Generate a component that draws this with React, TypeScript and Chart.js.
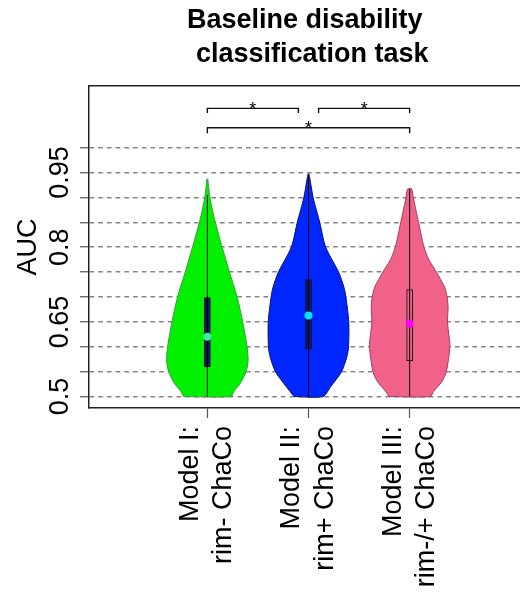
import React, { useEffect, useRef } from "react";
import { Chart, registerables } from "chart.js";

Chart.register(...registerables);

// ---------------- data ----------------
const categories = [
  ["Model I:", "rim- ChaCo"],
  ["Model II:", "rim+ ChaCo"],
  ["Model III:", "rim-/+ ChaCo"],
];
const positions = [1, 2, 3];

// violin profiles: AUC level and half-width (in category units)
const model1Levels = [0.5, 0.51, 0.527, 0.55, 0.572, 0.6, 0.65, 0.7, 0.75, 0.8, 0.85, 0.875, 0.9, 0.92, 0.937];
const model1Widths = [0.236, 0.262, 0.327, 0.383, 0.403, 0.393, 0.35, 0.295, 0.219, 0.147, 0.079, 0.05, 0.026, 0.013, 0.004];

const model2Levels = [0.5, 0.52, 0.55, 0.58, 0.6, 0.65, 0.7, 0.72, 0.75, 0.8, 0.85, 0.9, 0.947];
const model2Widths = [0.144, 0.22, 0.327, 0.38, 0.396, 0.398, 0.37, 0.35, 0.298, 0.17, 0.111, 0.046, 0.005];

const model3Levels = [0.5, 0.51, 0.53, 0.55, 0.6, 0.62, 0.65, 0.68, 0.7, 0.72, 0.75, 0.775, 0.8, 0.85, 0.9, 0.917];
const model3Widths = [0.204, 0.236, 0.318, 0.363, 0.398, 0.39, 0.374, 0.38, 0.37, 0.345, 0.265, 0.19, 0.142, 0.088, 0.036, 0.02];

const boxLower = [0.56, 0.595, 0.572];
const boxUpper = [0.699, 0.735, 0.715];
const medians = [0.62, 0.663, 0.647];
const whiskerLow = [0.5, 0.5, 0.5];
const whiskerHigh = [0.905, 0.945, 0.917];

// significance brackets
const bracketStarts = [1, 2.1, 1];
const bracketEnds = [1.9, 3, 3];
const bracketLevels = [1.079, 1.079, 1.04];
const bracketFeet = [1.0697, 1.0697, 1.029];
const starLabels = ["*", "*", "*"];

const yTickValues = [0.5, 0.55, 0.6, 0.65, 0.7, 0.75, 0.8, 0.85, 0.9, 0.95, 1.0];
const yTickLabels = ["0.5", "", "", "0.65", "", "", "0.8", "", "", "0.95", ""];

// ---------------- styles ----------------
const FONT = "'Liberation Sans', Arial, Helvetica, sans-serif";
const violinFill = ["#00f000", "#0026ff", "#f0628a"];
const violinEdge = ["#3c9a3c", "#10106a", "#a23a62"];
const boxFill = ["#0b1a6e", "#0b1a6e", "#f0628a"];
const medianColor = ["#40e8a8", "#00e5ff", "#ff00ff"];

const violinProfiles = [
  [model1Levels, model1Widths],
  [model2Levels, model2Widths],
  [model3Levels, model3Widths],
];

function violinPoints(center: number, levels: number[], widths: number[]) {
  const left = levels.map((v, i) => ({ x: center - widths[i], y: v }));
  const right = levels.map((v, i) => ({ x: center + widths[i], y: v })).reverse();
  return [...left, ...right, left[0]];
}

const starPlugin = {
  id: "sigStars",
  afterDatasetsDraw(chart: any) {
    const { ctx } = chart;
    const x = chart.scales.x;
    const y = chart.scales.y;
    const size = 18;
    ctx.save();
    ctx.font = `${size}px ${FONT}`;
    ctx.fillStyle = "#000";
    ctx.textAlign = "center";
    ctx.textBaseline = "alphabetic";
    bracketStarts.forEach((s, i) => {
      const px = x.getPixelForValue((s + bracketEnds[i]) / 2);
      const py = y.getPixelForValue(bracketLevels[i]) - 4.3;
      ctx.fillText(starLabels[i], px, py + 0.58 * size);
    });
    ctx.restore();
  },
};

export default function App() {
  const ref = useRef<HTMLCanvasElement | null>(null);

  useEffect(() => {
    if (!ref.current) return;
    Chart.defaults.font.family = FONT;

    const datasets: any[] = [];

    violinProfiles.forEach(([lv, wd], i) => {
      datasets.push({
        type: "line",
        data: violinPoints(positions[i], lv, wd),
        fill: "shape",
        backgroundColor: violinFill[i],
        borderColor: violinEdge[i],
        borderWidth: 1,
        pointRadius: 0,
        tension: 0.25,
        order: 5,
      });
    });

    datasets.push({
      type: "bar",
      data: positions.map((p, i) => ({ x: p, y: [boxLower[i], boxUpper[i]] })),
      backgroundColor: boxFill,
      borderColor: "#111",
      borderWidth: 1,
      borderSkipped: false,
      barThickness: 6,
      order: 4,
    });

    positions.forEach((p, i) => {
      datasets.push({
        type: "line",
        data: [
          { x: p, y: whiskerLow[i] },
          { x: p, y: whiskerHigh[i] },
        ],
        borderColor: "#000",
        borderWidth: 1,
        pointRadius: 0,
        fill: false,
        order: 3,
      });
    });

    bracketStarts.forEach((s, i) => {
      datasets.push({
        type: "line",
        data: [
          { x: s, y: bracketFeet[i] },
          { x: s, y: bracketLevels[i] },
          { x: bracketEnds[i], y: bracketLevels[i] },
          { x: bracketEnds[i], y: bracketFeet[i] },
        ],
        borderColor: "#111",
        borderWidth: 1.4,
        pointRadius: 0,
        fill: false,
        order: 2,
      });
    });

    datasets.push({
      type: "line",
      data: positions.map((p, i) => ({ x: p, y: medians[i] })),
      showLine: false,
      pointRadius: 4,
      pointBorderWidth: 0,
      pointBackgroundColor: medianColor,
      order: 0,
    });

    const chart = new Chart(ref.current, {
      type: "line",
      data: { datasets },
      plugins: [starPlugin],
      options: {
        animation: false,
        responsive: false,
        events: [],
        layout: { padding: { left: 0, right: 1, top: 0, bottom: 0 } },
        plugins: {
          legend: { display: false },
          tooltip: { enabled: false },
          title: {
            display: true,
            text: ["Baseline disability ", " classification task"],
            color: "#000",
            fullSize: false,
            font: { family: FONT, size: 27, weight: "bold", lineHeight: "34px" },
            padding: { top: 4, bottom: 14 },
          },
        },
        scales: {
          x: {
            type: "linear",
            min: -0.17,
            max: 4.17,
            offset: false,
            afterBuildTicks: (s: any) => {
              s.ticks = positions.map((v) => ({ value: v }));
            },
            afterFit: (s: any) => {
              s.height = 184;
            },
            ticks: {
              autoSkip: false,
              minRotation: 90,
              maxRotation: 90,
              labelOffset: -16.6,
              padding: 8,
              color: "#000",
              font: { family: FONT, size: 27, lineHeight: 1.233 },
              callback: (_v: any, i: number) => categories[i],
            },
            grid: {
              display: true,
              offset: false,
              drawOnChartArea: false,
              drawTicks: true,
              tickLength: 10,
              tickColor: "#555",
              tickWidth: 1.2,
            },
            border: { display: true, color: "#222", width: 1.5 },
          },
          x2: {
            type: "linear",
            position: "top",
            min: -0.17,
            max: 4.17,
            display: true,
            ticks: { display: false },
            grid: { display: false, drawTicks: false },
            border: { display: true, color: "#222", width: 1.5 },
          },
          y: {
            type: "linear",
            min: 0.477,
            max: 1.124,
            afterBuildTicks: (s: any) => {
              s.ticks = yTickValues.map((v) => ({ value: v }));
            },
            afterFit: (s: any) => {
              s.width = 89;
            },
            ticks: {
              autoSkip: false,
              minRotation: 90,
              maxRotation: 90,
              crossAlign: "center",
              padding: -7,
              color: "#000",
              font: { family: FONT, size: 27 },
              callback: (_v: any, i: number) => yTickLabels[i],
            },
            grid: {
              display: true,
              color: "#858585",
              lineWidth: 1.5,
              drawTicks: true,
              tickLength: 9,
              tickColor: "#555",
              tickWidth: 1.2,
              tickBorderDash: [],
            },
            border: { display: true, color: "#222", width: 1.5, dash: [4.7, 4] },
            title: {
              display: true,
              text: "AUC",
              color: "#000",
              font: { family: FONT, size: 27 },
              padding: { top: 12, bottom: 0 },
            },
          },
        },
      } as any,
    });

    return () => chart.destroy();
  }, []);

  return (
    <div
      style={{
        position: "fixed",
        left: 0,
        top: 0,
        width: 520,
        height: 592,
        overflow: "hidden",
        background: "#fff",
      }}
    >
      <canvas ref={ref} width={532} height={592} style={{ width: 532, height: 592, display: "block" }} />
    </div>
  );
}
